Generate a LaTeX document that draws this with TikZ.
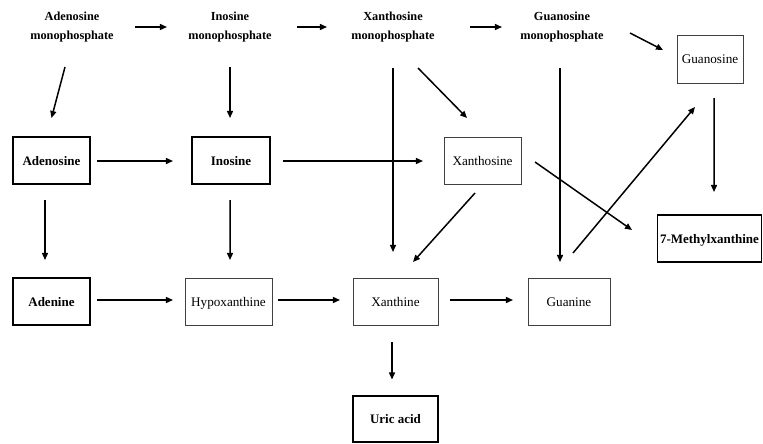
\documentclass[tikz,border=0pt]{standalone}
\usepackage{fontspec}
\setmainfont{Liberation Serif}
\usetikzlibrary{arrows.meta}

\begin{document}
\begin{tikzpicture}[x=0.02cm,y=-0.02cm,
		label/.style={inner sep=0pt,align=center,font=\fontsize{7}{11}\selectfont\bfseries},
		boldbox/.style={draw,line width=1.1pt,minimum width=1.54cm,minimum height=0.94cm,inner sep=1pt,text height=1.5ex,text depth=0.3ex,font=\fontsize{7.4}{8}\selectfont\bfseries},
		thinbox/.style={draw=black!75,line width=0.55pt,minimum width=1.54cm,minimum height=0.94cm,inner sep=1pt,text height=1.5ex,text depth=0.3ex,font=\fontsize{7.5}{8}\selectfont},
		arr/.style={line width=0.85pt,-{Triangle[length=4pt,width=3.4pt]}}]

	\useasboundingbox (0,0) rectangle (763,443);

	% monophosphates
	\node[label] (amp) at (72,27) {Adenosine\\monophosphate};
	\node[label] (imp) at (230,27) {Inosine\\monophosphate};
	\node[label] (xmp) at (393,27) {Xanthosine\\monophosphate};
	\node[label] (gmp) at (562,27) {Guanosine\\monophosphate};

	% nucleosides
	\node[thinbox,minimum width=1.32cm,minimum height=0.96cm] (guo) at (710,59) {Guanosine};
	\node[boldbox] (ado) at (51.5,160.5) {Adenosine};
	\node[boldbox,minimum width=1.56cm] (ino) at (231,160.5) {Inosine};
	\node[thinbox] (xao) at (482.5,160.5) {Xanthosine};
	\node[boldbox,minimum width=2.08cm] (mx) at (709.5,238.5) {7-Methylxanthine};

	% bases
	\node[boldbox] (ade) at (51.5,301.5) {Adenine};
	\node[thinbox,minimum width=1.74cm] (hyp) at (228.5,301.5) {Hypoxanthine};
	\node[thinbox,minimum width=1.70cm] (xan) at (395.5,301.5) {Xanthine};
	\node[thinbox,minimum width=1.64cm] (gua) at (569,301.5) {Guanine};
	\node[boldbox,minimum width=1.70cm,minimum height=0.92cm] (uric) at (395.5,419) {Uric acid};

	% top row
	\draw [arr] ([shift={(63,0)}]amp.center) -- ([shift={(-63,0)}]imp.center);
	\draw [arr] ([shift={(67,0)}]imp.center) -- ([shift={(-66,0)}]xmp.center);
	\draw [arr] ([shift={(77,0)}]xmp.center) -- ([shift={(-60,0)}]gmp.center);
	\draw [arr] ([shift={(68,6)}]gmp.center) -- ([shift={(-47,-9)}]guo.center);

	% down from the monophosphates
	\draw [arr] ([shift={(-7,40)}]amp.center) -- ([shift={(0,-42.5)}]ado.center);
	\draw [arr] ([shift={(0,40)}]imp.center) -- ([shift={(-1,-42.5)}]ino.center);
	\draw [arr] ([shift={(0,41)}]xmp.center) -- ([shift={(-2.5,-49.5)}]xan.center);
	\draw [arr] ([shift={(25,41)}]xmp.center) -- ([shift={(-15.5,-42.5)}]xao.center);
	\draw [arr] ([shift={(-2,41)}]gmp.center) -- ([shift={(-9,-39.5)}]gua.center);
	\draw [arr] ([shift={(4,39)}]guo.center) -- ([shift={(4.5,-46.5)}]mx.center);
	\draw [arr] ([shift={(4,-48.5)}]gua.center) -- ([shift={(-15,48)}]guo.center);

	% middle row
	\draw [arr] ([shift={(45.5,0.5)}]ado.center) -- ([shift={(-58,0.5)}]ino.center);
	\draw [arr] ([shift={(52,0.5)}]ino.center) -- ([shift={(-59.5,0.5)}]xao.center);
	\draw [arr] ([shift={(52.5,1.5)}]xao.center) -- ([shift={(-77.5,-8.5)}]mx.center);
	\draw [arr] ([shift={(-7.5,32.5)}]xao.center) -- ([shift={(17.5,-39.5)}]xan.center);
	\draw [arr] ([shift={(-6.5,39.5)}]ado.center) -- ([shift={(-6.5,-41.5)}]ade.center);
	\draw [arr] ([shift={(-1,39.5)}]ino.center) -- ([shift={(1.5,-41.5)}]hyp.center);

	% bottom row
	\draw [arr] ([shift={(45.5,-1.5)}]ade.center) -- ([shift={(-55.5,-1.5)}]hyp.center);
	\draw [arr] ([shift={(49.5,-1.5)}]hyp.center) -- ([shift={(-55.5,-1.5)}]xan.center);
	\draw [arr] ([shift={(54.5,-1.5)}]xan.center) -- ([shift={(-56,-1.5)}]gua.center);
	\draw [arr] ([shift={(-3.5,40.5)}]xan.center) -- ([shift={(-3.5,-39.5)}]uric.center);

\end{tikzpicture}
\end{document}
